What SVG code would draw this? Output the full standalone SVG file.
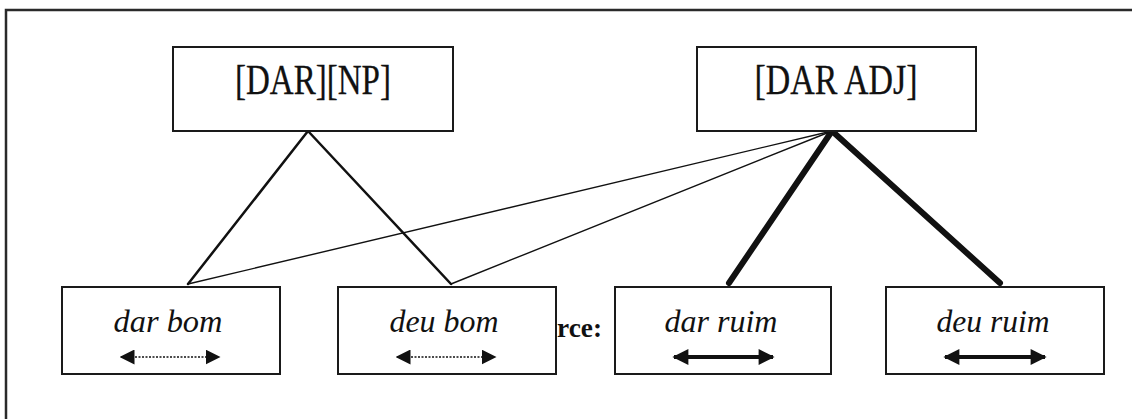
<svg xmlns="http://www.w3.org/2000/svg" width="1132" height="419" viewBox="0 0 1132 419">
  <style>
    .box { fill: #ffffff; stroke: #1a1a1a; stroke-width: 2; }
    .head { font-family: "Liberation Serif", "Times New Roman", serif; font-size: 43px; fill: #111; stroke: #111; stroke-width: 0.3; text-anchor: middle; }
    .form { font-family: "Liberation Serif", "Times New Roman", serif; font-style: italic; font-size: 31px; fill: #111; text-anchor: middle; }
    .src { font-family: "Liberation Serif", "Times New Roman", serif; font-weight: bold; font-size: 28px; fill: #111; }
    .link { stroke: #111; fill: none; stroke-linecap: round; }
    .weak { stroke: #111; stroke-width: 1.4; stroke-dasharray: 2 1.5; fill: none; }
    .strong { stroke: #111; stroke-width: 4; fill: none; }
  </style>
  <defs>
    <marker id="tipSmall" viewBox="0 0 10 10" refX="9" refY="5" markerWidth="15" markerHeight="15" markerUnits="userSpaceOnUse" orient="auto-start-reverse">
      <path d="M0,0 L10,5 L0,10 Z" fill="#111"/>
    </marker>
    <marker id="tipLarge" viewBox="0 0 10 10" refX="9" refY="5" markerWidth="17" markerHeight="16" markerUnits="userSpaceOnUse" orient="auto-start-reverse">
      <path d="M0,0 L10,5 L0,10 Z" fill="#111"/>
    </marker>
  </defs>

  <rect width="1132" height="419" fill="#ffffff"/>
  <!-- outer frame -->
  <path d="M6,419 V10 H1132" fill="none" stroke="#2a2a2a" stroke-width="2.5"/>

  <!-- stray label fragment between the lower boxes -->
  <text class="src" x="557" y="337" textLength="45" lengthAdjust="spacingAndGlyphs">rce:</text>

  <!-- connectors -->
  <g id="connectors">
    <line class="link" x1="308" y1="131" x2="188" y2="284" stroke-width="2.5"/>
    <line class="link" x1="308" y1="131" x2="451" y2="284" stroke-width="2.5"/>
    <line class="link" x1="832" y1="131" x2="188" y2="284" stroke-width="1.4"/>
    <line class="link" x1="832" y1="131" x2="451" y2="284" stroke-width="1.4"/>
    <line class="link" x1="832" y1="131" x2="729" y2="283" stroke-width="6"/>
    <line class="link" x1="832" y1="131" x2="1000" y2="283" stroke-width="6"/>
  </g>

  <g id="node-dar-np">
    <rect class="box" x="173" y="47" width="280" height="84"/>
    <text class="head" x="313" y="94" textLength="156" lengthAdjust="spacingAndGlyphs">[DAR][NP]</text>
  </g>

  <g id="node-dar-adj">
    <rect class="box" x="697" y="47" width="279" height="84"/>
    <text class="head" x="836" y="94" textLength="163" lengthAdjust="spacingAndGlyphs">[DAR ADJ]</text>
  </g>

  <g id="node-dar-bom">
    <rect class="box" x="62" y="287" width="218" height="87"/>
    <text class="form" x="168" y="332" textLength="109" lengthAdjust="spacingAndGlyphs">dar bom</text>
    <line class="weak" x1="121" y1="357" x2="219" y2="357" marker-start="url(#tipSmall)" marker-end="url(#tipSmall)"/>
  </g>

  <g id="node-deu-bom">
    <rect class="box" x="338" y="287" width="218" height="87"/>
    <text class="form" x="444" y="332" textLength="109" lengthAdjust="spacingAndGlyphs">deu bom</text>
    <line class="weak" x1="397" y1="357" x2="495" y2="357" marker-start="url(#tipSmall)" marker-end="url(#tipSmall)"/>
  </g>

  <g id="node-dar-ruim">
    <rect class="box" x="615" y="287" width="216" height="87"/>
    <text class="form" x="721" y="332" textLength="113" lengthAdjust="spacingAndGlyphs">dar ruim</text>
    <line class="strong" x1="674" y1="357" x2="773" y2="357" marker-start="url(#tipLarge)" marker-end="url(#tipLarge)"/>
  </g>

  <g id="node-deu-ruim">
    <rect class="box" x="886" y="287" width="218" height="87"/>
    <text class="form" x="993" y="332" textLength="113" lengthAdjust="spacingAndGlyphs">deu ruim</text>
    <line class="strong" x1="945" y1="357" x2="1045" y2="357" marker-start="url(#tipLarge)" marker-end="url(#tipLarge)"/>
  </g>
</svg>
